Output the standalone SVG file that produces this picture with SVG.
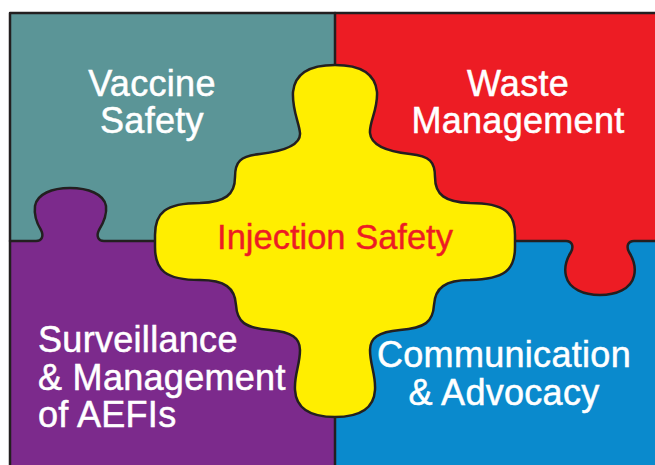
<svg xmlns="http://www.w3.org/2000/svg" width="655" height="465" viewBox="0 0 655 465">
  <style>
    .edge { stroke: #231f20; stroke-width: 2.5; stroke-linejoin: round; stroke-linecap: round; }
    .label { font-family: "Liberation Sans", Arial, sans-serif; font-size: 36px; fill: #ffffff; stroke: #ffffff; stroke-width: 0.5px; letter-spacing: 0.3px; }
    .center-label { font-family: "Liberation Sans", Arial, sans-serif; font-size: 34.5px; fill: #ed1c24; stroke: #ed1c24; stroke-width: 0.4px; }
  </style>
  <rect x="0" y="0" width="655" height="465" fill="#ffffff"/>

  <!-- Quadrant pieces -->
  <g id="vaccine-safety">
    <rect x="10" y="13" width="325" height="228" fill="#5b9597"/>
    <text class="label" x="152" y="96" text-anchor="middle">Vaccine</text>
    <text class="label" x="152" y="133" text-anchor="middle">Safety</text>
  </g>
  <g id="waste-management">
    <rect x="335" y="13" width="330" height="228" fill="#ed1c24"/>
  </g>
  <g id="surveillance">
    <rect x="10" y="241" width="325" height="234" fill="#7c2a8c"/>
  </g>
  <g id="communication">
    <rect x="335" y="241" width="330" height="234" fill="#0a8acd"/>
  </g>

  <!-- Interlocking tabs and seams -->
  <g id="connectors">
    <path class="edge" fill="#7c2a8c" d="M10,241 H36 C42,241 44,236 41,230 C36,222 34,214 35,206 C37,194 52,188 70,188 C88,188 104,194 106,206 C107,214 104,222 99,230 C96,236 98,241 104,241 H165"/>
    <path class="edge" fill="#ed1c24" d="M505,241 H566 C572,241 574,246 571,252 C566,260 564,268 566,276 C569,289 584,295 600,295 C616,295 631,289 634,276 C636,268 634,260 629,252 C626,246 628,241 634,241 H665"/>
    <path class="edge" fill="none" d="M335,13 V80 M335,400 V470"/>
    <path class="edge" fill="none" d="M10,475 V13 H665"/>
  </g>

  <g id="waste-management-label">
    <text class="label" x="518" y="96" text-anchor="middle">Waste</text>
    <text class="label" x="518" y="133" text-anchor="middle">Management</text>
  </g>
  <g id="surveillance-label">
    <text class="label" x="38" y="352">Surveillance</text>
    <text class="label" x="38" y="390">&amp; Management</text>
    <text class="label" x="38" y="427">of AEFIs</text>
  </g>
  <g id="communication-label">
    <text class="label" x="504" y="367" text-anchor="middle">Communication</text>
    <text class="label" x="504" y="405" text-anchor="middle">&amp; Advocacy</text>
  </g>

  <!-- Central piece -->
  <g id="injection-safety">
    <path class="edge" fill="#ffee00" d="M335,65
      C358,65 375,72 377,92
      C378,110 369,122 370,133
      C371,145 385,151 410,154
      C430,156 435,162 435,177
      C435,195 445,202 470,203
      C505,203 515,213 515,235
      L515,247
      C515,270 505,279 470,280
      C445,280 435,288 434,305
      C433,322 425,328 400,330
      C378,332 370,338 370,350
      C370,365 376,375 375,390
      C374,408 360,417 335,417
      C310,417 296,408 295,390
      C294,375 300,365 300,350
      C300,338 292,332 270,330
      C245,328 237,322 236,305
      C235,288 225,280 200,280
      C165,280 155,270 155,247
      L155,235
      C155,213 165,203 200,203
      C225,202 235,195 235,177
      C235,162 240,156 260,154
      C285,151 301,145 300,133
      C299,122 292,110 293,92
      C295,72 312,65 335,65 Z"/>
    <text class="center-label" x="335" y="249" text-anchor="middle">Injection Safety</text>
  </g>
</svg>
